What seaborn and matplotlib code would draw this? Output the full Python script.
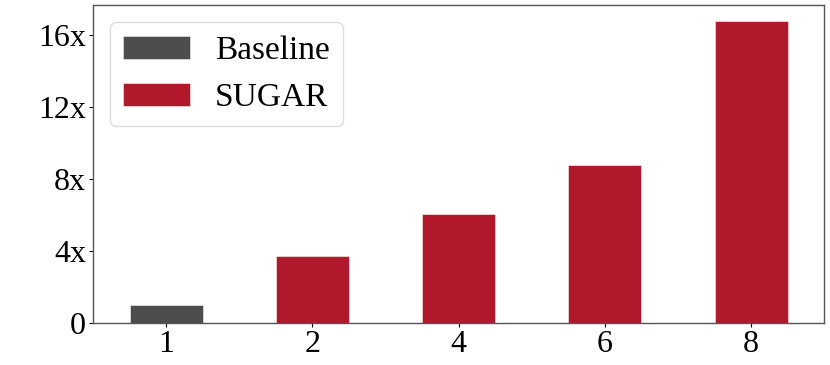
import pandas as pd
import seaborn as sns
import matplotlib.pyplot as plt

# speedup per setting
settings = ['1', '2', '4', '6', '8']
speedup = [1.0, 3.75, 6.05, 8.78, 16.8]
method = ['Baseline', 'SUGAR', 'SUGAR', 'SUGAR', 'SUGAR']
palette = {'Baseline': '#4d4d4d', 'SUGAR': '#b2182b'}
ytick_vals = [0, 4, 8, 12, 16]
ytick_labels = ['0', '4x', '8x', '12x', '16x']

df = pd.DataFrame({'setting': settings, 'speedup': speedup, 'method': method})

sns.set_style('white')
plt.rcParams['font.family'] = ['Liberation Serif', 'DejaVu Serif']
plt.rcParams['text.color'] = 'black'
plt.rcParams['xtick.color'] = 'black'
plt.rcParams['ytick.color'] = 'black'

fig, ax = plt.subplots(figsize=(8.3, 3.65), dpi=100)
sns.barplot(data=df, x='setting', y='speedup', hue='method',
            palette=palette, dodge=False, width=0.5, saturation=1,
            edgecolor=(1, 1, 1, 0.6), linewidth=0.6, ax=ax)

ax.set_ylim(0, max(speedup) * 1.05)
ax.set_yticks(ytick_vals)
ax.set_yticklabels(ytick_labels)
ax.set_xlabel('')
ax.set_ylabel('')
ax.tick_params(axis='both', labelsize=23, length=3, width=0.8,
               left=True, bottom=True, pad=2, colors='black')
for s in ax.spines.values():
    s.set_color('#555555')
    s.set_linewidth(1.0)

ax.legend(loc='upper left', fontsize=24, framealpha=1,
          edgecolor='#dddddd', handletextpad=0.75)

fig.subplots_adjust(left=0.112, right=0.993, top=0.985, bottom=0.115)
fig.savefig('out.png', dpi=100)
